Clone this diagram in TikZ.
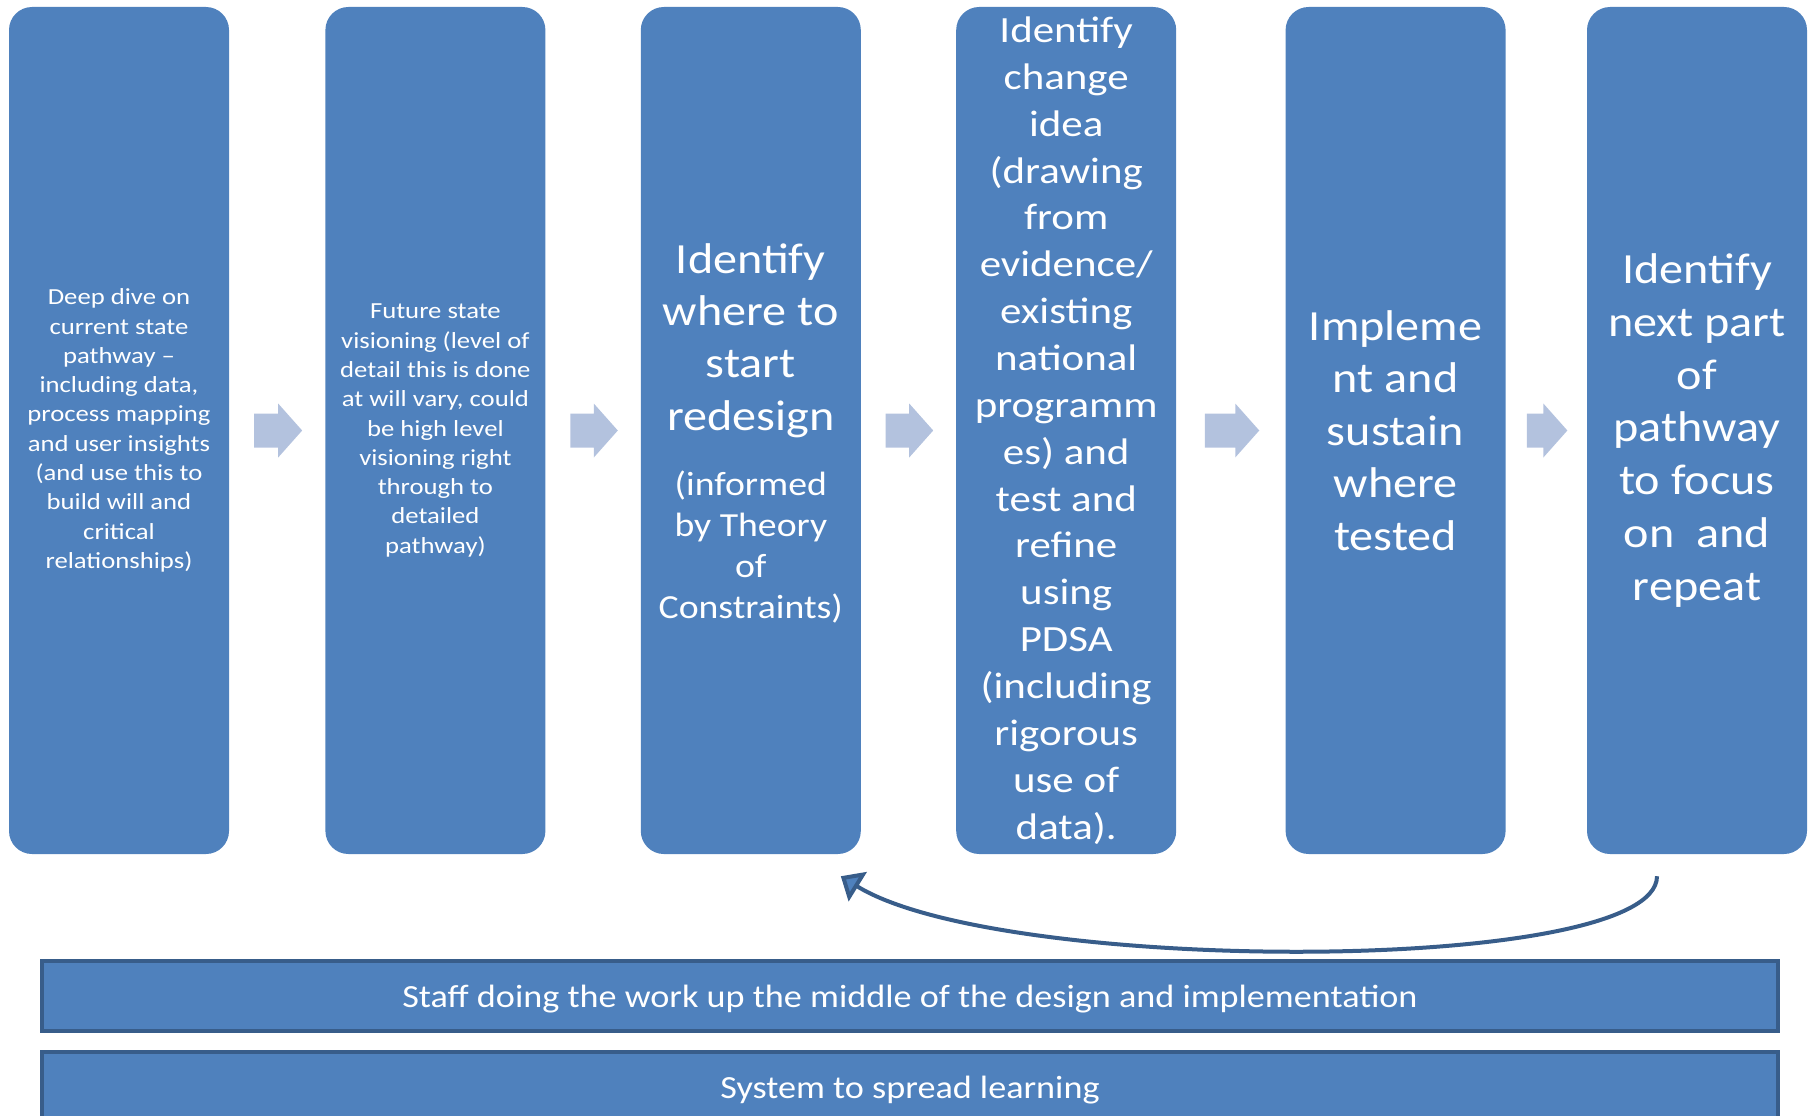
\documentclass[tikz,border=0pt]{standalone}
\usepackage{fontspec}
\setmainfont{Carlito}[FakeStretch=1.12]
\newfontfamily\widefont{Carlito}[FakeStretch=1.16]
\usepackage{tikz}
\usetikzlibrary{positioning,calc,arrows.meta}
\definecolor{boxblue}{RGB}{79,129,189}
\definecolor{edgeblue}{RGB}{56,93,138}
\definecolor{flowblue}{RGB}{179,194,222}
\newcommand{\fs}[2]{\fontsize{#1}{#2}\selectfont}

\begin{document}
\begin{tikzpicture}[x=1pt,y=-1pt,
stepbox/.style={fill=boxblue, rounded corners=23pt, minimum width=220pt, minimum height=847pt, inner sep=0pt, text=white, align=center},
steptext/.style={text=white, align=center, inner sep=0pt},
bar/.style={fill=boxblue, draw=edgeblue, line width=4pt, minimum width=1736pt, minimum height=70pt, inner sep=0pt, text depth=0pt, text=white, font=\fs{32.3}{40}},
flow/.style={fill=flowblue},
back/.style={draw=edgeblue, line width=4pt, -{Triangle[length=20pt,width=34pt,fill=boxblue]}}]
\useasboundingbox (0,0) rectangle (1812,1116);
\clip (0,0) rectangle (1812,1116);

%the six steps
\node[stepbox, font=\widefont\fs{23}{29.3}] (s1) at (119,430.5) {Deep dive on\\current state\\pathway –\\including data,\\process mapping\\and user insights\\(and use this to\\build will and\\critical\\relationships)};
\node[stepbox, font=\widefont\fs{23}{29.3}, right=96pt of s1] (s2) {Future state\\visioning (level of\\detail this is done\\at will vary, could\\be high level\\visioning right\\through to\\detailed\\pathway)};
\node[stepbox, right=95pt of s2] (s3) {};
\node[steptext, font=\fs{43}{52.4}] (s3a) at ([yshift=90pt]s3.center) {Identify\\where to\\start\\redesign};
\node[steptext, font=\fs{33.7}{41.2}] (s3b) at ([yshift=-116.5pt]s3.center) {(informed\\by Theory\\of\\Constraints)};
\node[stepbox, font=\widefont\fs{37}{46.85}, right=95pt of s3] (s4) {Identify\\change\\idea\\(drawing\\from\\evidence/\\existing\\national\\programm\\es) and\\test and\\refine\\using\\PDSA\\(including\\rigorous\\use of\\data).};
\node[stepbox, font=\fs{43}{52.5}, right=109pt of s4] (s5) {Impleme\\nt and\\sustain\\where\\tested};
\node[stepbox, font=\fs{43}{52.7}, right=81pt of s5] (s6) {Identify\\next part\\of\\pathway\\to focus\\on~ and\\repeat};

%block arrows between the steps
\foreach \a/\b in {s1/s2,s2/s3,s3/s4,s4/s5,s5/s6}{
	\coordinate (h) at ($(\a.east)!0.26!(\b.west)$);
	\coordinate (t) at ($(\a.east)!0.76!(\b.west)$);
	\fill[flow] ($(h)+(0,-17)$) -- ($(t)+(-24,-17)$) -- ($(t)+(-24,-27)$) -- (t)
		-- ($(t)+(-24,27)$) -- ($(t)+(-24,17)$) -- ($(h)+(0,17)$) -- cycle;
}

%loop back to redesign
\draw[back] ([xshift=-40pt,yshift=-22pt]s6.south) .. controls +(0,99) and +(160,99) .. ([xshift=90pt,yshift=-22pt]s3.south);

%bars along the bottom
\node[bar] (staff) at (910,996) {Staff doing the work up the middle of the design and implementation};
\node[bar] (spread) at (910,1087) {System to spread learning};
\end{tikzpicture}
\end{document}
